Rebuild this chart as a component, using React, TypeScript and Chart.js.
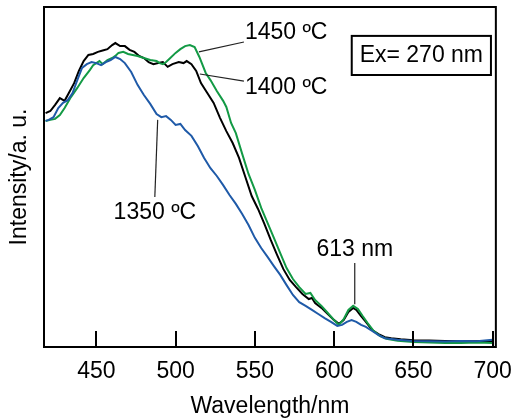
import React, { useEffect, useRef } from "react";
import { Chart, registerables } from "chart.js";

Chart.register(...registerables);

// ---- axis ----
const xMin = 417;
const xMax = 702;
const yMin = 0;
const yMax = 100;
const xTicks = [450, 500, 550, 600, 650, 700];
const xTitle = "Wavelength/nm";
const yTitle = "Intensity/a. u.";

// ---- series: 1350 ºC (blue) ----
const wl1350 = [418, 420, 423, 426, 429, 432, 435, 438, 441, 444, 447, 450, 453, 456, 459, 462, 465, 468, 472, 476, 480, 484, 488, 491, 494, 497, 500, 503, 506, 510, 514, 518, 522, 526, 530, 534, 538, 542, 546, 550, 554, 558, 562, 566, 570, 574, 578, 582, 586, 590, 594, 598, 602, 605, 608, 611, 614, 617, 620, 624, 628, 632, 640, 650, 660, 670, 680, 690, 700];
const int1350 = [66.5, 66.8, 67.6, 70.3, 71.8, 72.6, 74.7, 78.5, 82.1, 83.2, 83.8, 83.5, 82.9, 83.8, 84.4, 85.3, 84.7, 83.5, 80.9, 77.1, 74.1, 71.5, 68.5, 67.6, 67.9, 66.8, 65.3, 65.6, 63.8, 62.1, 59.1, 55.6, 52.6, 50.3, 47.6, 44.7, 42.1, 39.1, 35.9, 32.1, 29.1, 26.5, 23.8, 21.2, 18.2, 15.3, 13.2, 12.1, 10.9, 9.7, 8.5, 7.4, 6.2, 6.5, 7.4, 7.9, 7.4, 6.5, 5.9, 4.7, 3.5, 2.6, 2.1, 1.8, 1.7, 1.6, 1.8, 1.7, 2.1];

// ---- series: 1400 ºC (black) ----
const wl1400 = [418, 421, 424, 427, 430, 433, 436, 439, 442, 445, 448, 451, 454, 457, 460, 462, 465, 468, 471, 474, 477, 480, 483, 486, 489, 492, 495, 498, 502, 505, 507, 510, 513, 516, 520, 524, 528, 532, 536, 540, 544, 548, 552, 556, 560, 564, 568, 572, 576, 580, 584, 586, 588, 592, 596, 600, 603, 606, 609, 612, 614, 617, 620, 624, 628, 632, 636, 642, 650, 660, 670, 680, 690, 700];
const int1400 = [68.8, 69.4, 71.2, 73.2, 72.4, 75.0, 77.6, 81.2, 84.1, 85.9, 86.2, 86.8, 87.2, 87.6, 88.8, 89.4, 88.5, 88.5, 87.4, 86.8, 85.6, 85.0, 83.8, 83.2, 83.5, 83.8, 82.4, 83.2, 83.8, 83.5, 84.1, 83.2, 81.2, 77.6, 74.7, 71.8, 67.4, 63.5, 60.0, 55.6, 50.0, 44.4, 40.6, 36.2, 31.5, 27.1, 22.9, 19.7, 17.6, 15.6, 14.1, 14.4, 12.9, 11.5, 9.7, 7.9, 6.8, 7.9, 10.3, 11.5, 10.9, 9.1, 7.4, 5.0, 3.8, 2.9, 2.6, 2.3, 2.0, 1.9, 1.8, 1.7, 1.7, 1.8];

// ---- series: 1450 ºC (green) ----
const wl1450 = [418, 421, 424, 427, 430, 434, 438, 442, 446, 448, 450, 452, 454, 457, 460, 462, 464, 467, 470, 473, 476, 480, 484, 488, 490, 492, 494, 496, 500, 503, 506, 509, 512, 515, 519, 522, 526, 530, 532, 535, 538, 542, 546, 550, 554, 558, 562, 566, 570, 574, 578, 582, 585, 588, 592, 596, 600, 603, 606, 609, 612, 615, 618, 621, 625, 629, 633, 640, 650, 660, 670, 680, 690, 700];
const int1450 = [66.5, 66.8, 67.1, 68.2, 70.3, 73.5, 76.2, 79.1, 81.5, 82.9, 83.5, 84.1, 83.2, 84.4, 85.0, 85.6, 86.5, 86.8, 86.2, 85.9, 85.6, 85.0, 84.4, 84.1, 83.5, 83.2, 83.8, 84.7, 86.5, 87.6, 88.5, 88.8, 88.2, 85.3, 80.6, 78.5, 75.3, 72.4, 70.6, 65.9, 62.9, 56.8, 50.9, 46.2, 40.9, 36.5, 32.1, 27.6, 23.2, 20.0, 17.6, 15.6, 15.9, 13.8, 12.1, 10.0, 7.9, 6.5, 8.2, 10.9, 12.1, 11.2, 9.1, 7.1, 4.7, 3.2, 2.4, 1.8, 1.5, 1.3, 1.2, 1.2, 1.3, 1.2];

const seriesNames = ["1350 ºC", "1400 ºC", "1450 ºC"];
const seriesColors = ["#1f5aa8", "#000000", "#139a45"];

// ---- annotations (data units) ----
const annotTexts = ["1450 ºC", "1400 ºC", "1350 ºC", "613 nm"];
const annotTextPos = [[543.7, 92.4], [543.7, 76.2], [460.9, 39.4], [613, 28.5]];
const annotAlign = ["left", "left", "left", "center"];
const leaderLines = [
  [514.7, 86.8, 543.1, 89.7],
  [515.3, 80.3, 543.1, 78.2],
  [488.7, 66.8, 486.9, 44.1],
  [613, 24.7, 613, 12.6],
];
const boxText = "Ex= 270 nm";
const boxRange = [611.1, 91.5, 698.9, 80.0];

const FONT = '"Liberation Sans", Arial, sans-serif';

const toPoints = (xs: number[], ys: number[]) => xs.map((x, i) => ({ x, y: ys[i] }));

const overlayPlugin = {
  id: "overlay",
  afterDraw(chart: any) {
    const { ctx, chartArea: ca } = chart;
    const xs = chart.scales.x;
    const ys = chart.scales.y;
    const px = (v: number) => xs.getPixelForValue(v);
    const py = (v: number) => ys.getPixelForValue(v);
    ctx.save();
    ctx.strokeStyle = "#000";
    ctx.lineWidth = 2;
    // inward tick marks
    xs.ticks.forEach((t: any) => {
      const X = Math.round(px(t.value));
      ctx.beginPath();
      ctx.moveTo(X, ca.bottom);
      ctx.lineTo(X, ca.bottom - 16);
      ctx.stroke();
    });
    // frame
    ctx.strokeRect(ca.left, ca.top, ca.right - ca.left, ca.bottom - ca.top);
    // leader lines
    ctx.lineWidth = 1.2;
    ctx.strokeStyle = "#222";
    leaderLines.forEach(([x1, y1, x2, y2]) => {
      ctx.beginPath();
      ctx.moveTo(px(x1), py(y1));
      ctx.lineTo(px(x2), py(y2));
      ctx.stroke();
    });
    // labels
    ctx.fillStyle = "#000";
    ctx.font = "23px " + FONT;
    ctx.textBaseline = "middle";
    annotTexts.forEach((t, i) => {
      ctx.textAlign = annotAlign[i] as CanvasTextAlign;
      ctx.fillText(t, px(annotTextPos[i][0]), py(annotTextPos[i][1]));
    });
    // Ex box
    const bx1 = px(boxRange[0]);
    const by1 = py(boxRange[1]);
    const bx2 = px(boxRange[2]);
    const by2 = py(boxRange[3]);
    ctx.fillStyle = "#fff";
    ctx.fillRect(bx1, by1, bx2 - bx1, by2 - by1);
    ctx.lineWidth = 2;
    ctx.strokeStyle = "#000";
    ctx.strokeRect(bx1, by1, bx2 - bx1, by2 - by1);
    ctx.fillStyle = "#000";
    ctx.textAlign = "center";
    ctx.fillText(boxText, (bx1 + bx2) / 2, (by1 + by2) / 2);
    ctx.restore();
  },
};

export default function App() {
  const ref = useRef<HTMLCanvasElement | null>(null);
  useEffect(() => {
    if (!ref.current) return;
    const datasets = [
      { label: seriesNames[0], data: toPoints(wl1350, int1350), borderColor: seriesColors[0], order: 1 },
      { label: seriesNames[2], data: toPoints(wl1450, int1450), borderColor: seriesColors[2], order: 2 },
      { label: seriesNames[1], data: toPoints(wl1400, int1400), borderColor: seriesColors[1], order: 3 },
    ].map((d) => ({ ...d, borderWidth: 2, pointRadius: 0, tension: 0, fill: false }));
    const chart = new Chart(ref.current, {
      type: "line",
      data: { datasets },
      options: {
        responsive: false,
        animation: false,
        layout: { padding: { top: 7, right: 18, bottom: 0, left: 0 } },
        plugins: { legend: { display: false }, tooltip: { enabled: false } },
        scales: {
          x: {
            type: "linear",
            min: xMin,
            max: xMax,
            afterBuildTicks: (s: any) => {
              s.ticks = xTicks.map((v) => ({ value: v }));
            },
            afterFit: (s: any) => {
              s.height = 73;
            },
            grid: { display: false, drawTicks: false },
            border: { display: false },
            ticks: { color: "#000", padding: 11, font: { size: 23, family: FONT }, maxRotation: 0, autoSkip: false },
            title: { display: true, text: xTitle, color: "#000", font: { size: 23, family: FONT }, padding: { top: 0, bottom: 0 } },
          },
          y: {
            type: "linear",
            min: yMin,
            max: yMax,
            afterFit: (s: any) => {
              s.width = 44;
            },
            grid: { display: false, drawTicks: false },
            border: { display: false },
            ticks: { display: false },
            title: { display: true, text: yTitle, color: "#000", font: { size: 23, family: FONT }, padding: { top: 6, bottom: 0 } },
          },
        },
      },
      plugins: [overlayPlugin],
    } as any);
    return () => chart.destroy();
  }, []);
  return (
    <canvas
      ref={ref}
      width={523}
      height={420}
      style={{ position: "absolute", left: 0, top: 0, display: "block" }}
    />
  );
}
